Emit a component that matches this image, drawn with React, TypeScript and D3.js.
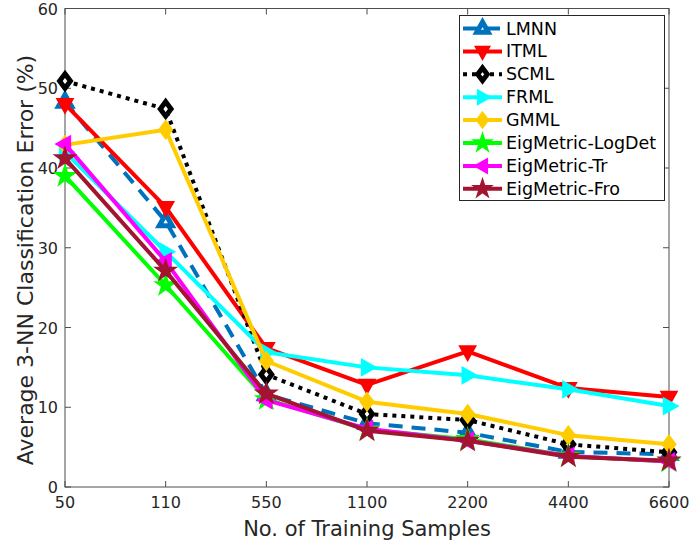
import React, { useEffect, useRef } from 'react';
import * as d3 from 'd3';

const categories = ['50', '110', '550', '1100', '2200', '4400', '6600'];
const yTicks = [0, 10, 20, 30, 40, 50, 60];

const lmnn = [48.3, 33.3, 11.6, 8.0, 6.8, 4.4, 4.1];
const itml = [48.0, 35.1, 17.4, 12.8, 17.0, 12.4, 11.3];
const scml = [50.9, 47.4, 14.1, 9.15, 8.4, 5.35, 4.35];
const frml = [42.0, 29.5, 16.9, 15.0, 14.0, 12.25, 10.15];
const gmml = [42.9, 44.8, 15.8, 10.7, 9.15, 6.5, 5.35];
const logdet = [39.0, 25.3, 11.0, 7.2, 6.0, 3.9, 3.2];
const tr = [43.0, 28.3, 10.9, 7.3, 5.8, 3.9, 3.2];
const fro = [41.2, 27.1, 11.7, 7.06, 5.8, 3.8, 3.3];

const seriesNames = ['LMNN', 'ITML', 'SCML', 'FRML', 'GMML', 'EigMetric-LogDet', 'EigMetric-Tr', 'EigMetric-Fro'];
const seriesValues = [lmnn, itml, scml, frml, gmml, logdet, tr, fro];
const seriesColors = ['#0072BD', '#FF0000', '#000000', '#00FFFF', '#FFCC00', '#00FF00', '#FF00FF', '#A2142F'];
const seriesDash = ['14,9', null, '4,5', null, null, null, null, null];
const seriesMarker = ['triUp', 'triDown', 'diamond', 'triRight', 'diamond', 'star', 'triLeft', 'star'];

const markerPath = (kind: string, s: number) => {
  if (kind === 'triUp') return `M0,${-s}L${s * 0.9},${s * 0.6}L${-s * 0.9},${s * 0.6}Z`;
  if (kind === 'triDown') return `M0,${s}L${s * 0.9},${-s * 0.6}L${-s * 0.9},${-s * 0.6}Z`;
  if (kind === 'triRight') return `M${s},0L${-s * 0.6},${s * 0.9}L${-s * 0.6},${-s * 0.9}Z`;
  if (kind === 'triLeft') return `M${-s},0L${s * 0.6},${s * 0.9}L${s * 0.6},${-s * 0.9}Z`;
  if (kind === 'diamond') return `M0,${-s}L${s * 0.75},0L0,${s}L${-s * 0.75},0Z`;
  return d3.symbol(d3.symbolStar, s * s * 1.6)() as string;
};

const App = () => {
  const ref = useRef<SVGSVGElement>(null);

  useEffect(() => {
    const width = 689;
    const height = 544;
    const m = { left: 65, right: 20, top: 8.5, bottom: 57 };
    const svg = d3.select(ref.current);
    svg.selectAll('*').remove();
    svg.attr('width', width).attr('height', height);

    const x = d3.scalePoint().domain(categories).range([m.left, width - m.right]);
    const y = d3.scaleLinear().domain([0, 60]).range([height - m.bottom, m.top]);
    const font = 'DejaVu Sans, sans-serif';
    const axisColor = '#4d4d4d';

    svg.append('rect').attr('width', width).attr('height', height).attr('fill', '#fff');

    // box + ticks
    const x0 = m.left, x1 = width - m.right, y0 = height - m.bottom, y1 = m.top;
    svg.append('rect').attr('x', x0).attr('y', y1).attr('width', x1 - x0).attr('height', y0 - y1)
      .attr('fill', 'none').attr('stroke', axisColor).attr('stroke-width', 1);
    categories.forEach(c => {
      const px = x(c)!;
      svg.append('line').attr('x1', px).attr('x2', px).attr('y1', y0).attr('y2', y0 - 6).attr('stroke', axisColor);
      svg.append('line').attr('x1', px).attr('x2', px).attr('y1', y1).attr('y2', y1 + 6).attr('stroke', axisColor);
      svg.append('text').attr('x', px).attr('y', y0 + 21).attr('text-anchor', 'middle')
        .attr('font-family', font).attr('font-size', 16).attr('fill', '#262626').text(c);
    });
    yTicks.forEach(t => {
      const py = y(t);
      svg.append('line').attr('x1', x0).attr('x2', x0 + 6).attr('y1', py).attr('y2', py).attr('stroke', axisColor);
      svg.append('line').attr('x1', x1).attr('x2', x1 - 6).attr('y1', py).attr('y2', py).attr('stroke', axisColor);
      svg.append('text').attr('x', x0 - 7).attr('y', py + 6).attr('text-anchor', 'end')
        .attr('font-family', font).attr('font-size', 16).attr('fill', '#262626').text(t);
    });

    svg.append('text').attr('x', (x0 + x1) / 2).attr('y', 536).attr('text-anchor', 'middle')
      .attr('font-family', font).attr('font-size', 21).attr('fill', '#262626').text('No. of Training Samples');
    svg.append('text').attr('transform', `translate(33,260) rotate(-90)`).attr('text-anchor', 'middle')
      .attr('font-family', font).attr('font-size', 22).attr('fill', '#262626').text('Average 3-NN Classification Error (%)');

    const line = d3.line<number>().x((d, i) => x(categories[i])!).y(d => y(d));

    const drawMarker = (g: any, k: number, px: number, py: number, s: number) => {
      const kind = seriesMarker[k];
      const hollow = k === 0 || k === 2;
      g.append('path').attr('d', markerPath(kind, hollow ? s * 0.8 : s)).attr('transform', `translate(${px},${py})`)
        .attr('fill', hollow ? '#fff' : seriesColors[k])
        .attr('stroke', seriesColors[k]).attr('stroke-width', hollow ? 5 : 1.5)
        .attr('stroke-linejoin', 'miter');
    };

    seriesValues.forEach((vals, k) => {
      const g = svg.append('g');
      g.append('path').attr('d', line(vals)).attr('fill', 'none').attr('stroke', seriesColors[k])
        .attr('stroke-width', 4).attr('stroke-linejoin', 'round')
        .attr('stroke-dasharray', seriesDash[k]);
      vals.forEach((v, i) => drawMarker(g, k, x(categories[i])!, y(v), 9));
    });

    // legend
    const lg = svg.append('g');
    lg.append('rect').attr('x', 459.5).attr('y', 15.5).attr('width', 205).attr('height', 185)
      .attr('fill', '#fff').attr('stroke', '#262626').attr('stroke-width', 1);
    seriesNames.forEach((n, k) => {
      const ly = 28.5 + k * 22.9;
      lg.append('line').attr('x1', 463).attr('x2', 502).attr('y1', ly).attr('y2', ly)
        .attr('stroke', seriesColors[k]).attr('stroke-width', 4).attr('stroke-dasharray', seriesDash[k]);
      drawMarker(lg, k, 482.5, ly, 8);
      lg.append('text').attr('x', 506).attr('y', ly + 6).attr('font-family', font).attr('font-size', 17.5)
        .attr('fill', '#000').text(n);
    });
  }, []);

  return <svg ref={ref} style={{ position: 'absolute', left: 0, top: 0 }}></svg>;
};

export default App;
